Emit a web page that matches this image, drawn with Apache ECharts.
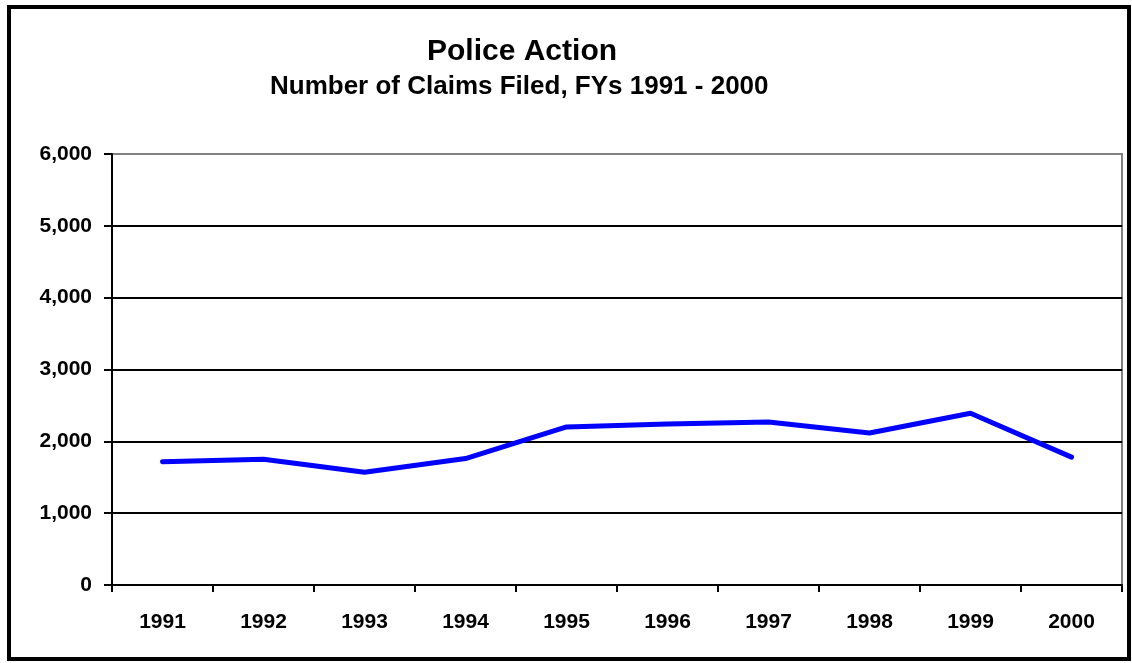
<!DOCTYPE html>
<html>
<head>
<meta charset="utf-8">
<title>Police Action</title>
<script src="https://cdn.jsdelivr.net/npm/echarts@6/dist/echarts.min.js"></script>
<style>
  html, body { margin: 0; padding: 0; background: #fff; }
  #chart { width: 1132px; height: 663px; }
</style>
</head>
<body>
<div id="chart"></div>
<script>
// fiscal years and claims filed
const years = ['1991', '1992', '1993', '1994', '1995', '1996', '1997', '1998', '1999', '2000']
const claims = [1715, 1750, 1570, 1760, 2200, 2240, 2270, 2115, 2390, 1780]
const yTicks = { min: 0, max: 6000, interval: 1000 }

const font = '"Liberation Sans", Arial, sans-serif'

let chart = echarts.init(document.getElementById('chart'))

let option = {
  backgroundColor: '#fff',
  animation: false,
  title: [
    {
      text: 'Police Action',
      left: 422,
      top: 32,
      textStyle: { fontFamily: font, fontSize: 30, fontWeight: 'bold', color: '#000' }
    },
    {
      text: 'Number of Claims Filed, FYs 1991 - 2000',
      left: 265,
      top: 69,
      textStyle: { fontFamily: font, fontSize: 26, fontWeight: 'bold', color: '#000' }
    }
  ],
  // outer frame
  graphic: [
    {
      type: 'rect',
      shape: { x: 9, y: 7, width: 1120, height: 652 },
      style: { fill: 'none', stroke: '#000', lineWidth: 4 },
      silent: true
    }
  ],
  grid: {
    left: 112,
    right: 10,
    top: 154,
    bottom: 78,
    show: true,
    borderColor: '#808080',
    borderWidth: 2,
    backgroundColor: '#fff'
  },
  xAxis: {
    type: 'category',
    data: years,
    boundaryGap: true,
    axisLine: { show: true, lineStyle: { color: '#000', width: 2 } },
    axisTick: { show: true, alignWithLabel: false, length: 7, lineStyle: { color: '#000', width: 2 } },
    axisLabel: {
      margin: 27,
      fontFamily: font,
      fontSize: 21,
      fontWeight: 'bold',
      color: '#000'
    },
    splitLine: { show: false }
  },
  yAxis: {
    type: 'value',
    min: yTicks.min,
    max: yTicks.max,
    interval: yTicks.interval,
    axisLine: { show: true, lineStyle: { color: '#000', width: 2 } },
    axisTick: { show: true, length: 8, lineStyle: { color: '#000', width: 2 } },
    axisLabel: {
      margin: 20,
      fontFamily: font,
      fontSize: 21,
      fontWeight: 'bold',
      color: '#000',
      formatter: function (v) {
        return v.toLocaleString('en-US')
      }
    },
    splitLine: {
      show: true,
      // last line (6,000) stays grey like the plot frame
      lineStyle: { color: ['#000', '#000', '#000', '#000', '#000', '#000', '#808080'], width: 2 }
    }
  },
  series: [
    {
      name: 'Claims',
      type: 'line',
      data: claims,
      showSymbol: false,
      symbol: 'none',
      lineStyle: { color: '#0000ff', width: 5, cap: 'round', join: 'round' },
      z: 5
    }
  ]
}

chart.setOption(option)
</script>
</body>
</html>
